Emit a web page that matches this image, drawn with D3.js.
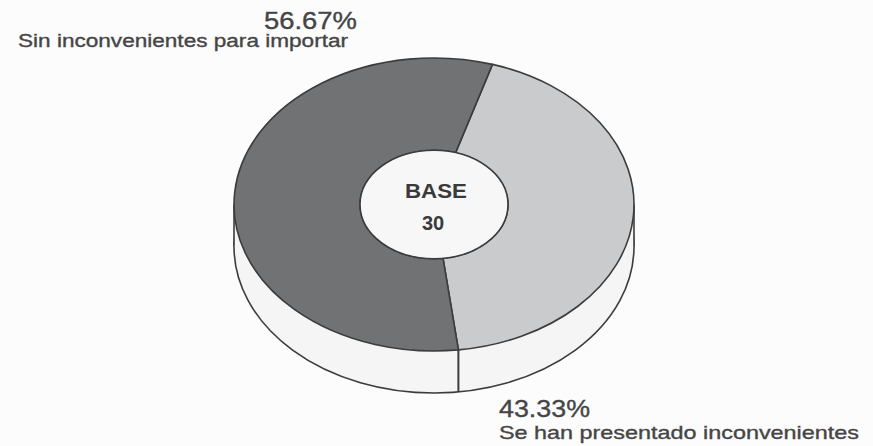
<!DOCTYPE html>
<html>
<head>
<meta charset="utf-8">
<script src="https://cdn.jsdelivr.net/npm/d3@7"></script>
<style>
  html, body { margin: 0; padding: 0; background: #fcfcfc; }
  svg { display: block; }
  text { font-family: "Liberation Sans", Arial, sans-serif; fill: #454545; }
</style>
</head>
<body>
<svg id="chart" width="873" height="446"></svg>
<script>
// ---- data ----
const categories = ["Se han presentado inconvenientes", "Sin inconvenientes para importar"];
const values = [43.33, 56.67];
const percentLabels = ["43.33%", "56.67%"];
const baseLabel = ["BASE", "30"];
const sliceColors = ["#c9cbcd", "#707274"];

(function () {
// ---- layout ----
const W = 873, H = 446;
const cx = 434, cy = 204.5;     // centre of top face
const rx = 200, ry = 146.5;     // outer radii of top face
const depth = 42;               // thickness of the disc
const R = 100;                  // unit radius used by d3.arc before elliptical scaling
const innerFrac = 0.37;
const startA = 17 * Math.PI / 180;

const svg = d3.select("#chart");
svg.append("rect").attr("width", W).attr("height", H).attr("fill", "#fcfcfc");

const pie = d3.pie().sort(null).value(d => d)
  .startAngle(startA).endAngle(startA + 2 * Math.PI);
const arcs = pie(values);

const arcGen = d3.arc().innerRadius(R * innerFrac).outerRadius(R);
const fullDisc = d3.arc().innerRadius(0).outerRadius(R).startAngle(0).endAngle(2 * Math.PI);

const sx = rx / R, sy = ry / R;
const ex = a => cx + rx * Math.sin(a);
const ey = a => cy - ry * Math.cos(a);

const stroke = "#3c3c3c";

// ---- side wall ----
const side = svg.append("g");
side.append("path")
  .attr("d", fullDisc())
  .attr("transform", `translate(${cx},${cy + depth}) scale(${sx},${sy})`)
  .attr("fill", "#f5f5f5")
  .attr("stroke", stroke).attr("stroke-width", 1.6)
  .attr("vector-effect", "non-scaling-stroke");
side.append("rect")
  .attr("x", cx - rx).attr("y", cy).attr("width", 2 * rx).attr("height", depth)
  .attr("fill", "#f5f5f5");
[-1, 1].forEach(s => {
  side.append("line")
    .attr("x1", cx + s * rx).attr("x2", cx + s * rx)
    .attr("y1", cy).attr("y2", cy + depth)
    .attr("stroke", stroke).attr("stroke-width", 1.6);
});
// slice boundaries visible on the front wall
arcs.forEach(d => {
  [d.startAngle, d.endAngle].forEach(a => {
    const yy = ey(a);
    if (yy > cy) {
      side.append("line")
        .attr("x1", ex(a)).attr("x2", ex(a))
        .attr("y1", yy).attr("y2", yy + depth)
        .attr("stroke", stroke).attr("stroke-width", 1.6);
    }
  });
});

// ---- top face ----
const face = svg.append("g")
  .attr("transform", `translate(${cx},${cy}) scale(${sx},${sy})`);
face.selectAll("path.slice")
  .data(arcs)
  .join("path")
  .attr("class", "slice")
  .attr("d", arcGen)
  .attr("fill", (d, i) => sliceColors[i])
  .attr("stroke", stroke).attr("stroke-width", 1.6)
  .attr("stroke-linejoin", "round")
  .attr("vector-effect", "non-scaling-stroke");
// hole
face.append("circle")
  .attr("r", R * innerFrac)
  .attr("fill", "#f7f7f7")
  .attr("stroke", stroke).attr("stroke-width", 1.6)
  .attr("vector-effect", "non-scaling-stroke");

// ---- centre text ----
svg.append("text").attr("x", cx + 2).attr("y", 198)
  .attr("text-anchor", "middle").attr("font-weight", "bold").attr("font-size", 20)
  .attr("textLength", 62).attr("lengthAdjust", "spacingAndGlyphs")
  .style("fill", "#3a3a3a")
  .text(baseLabel[0]);
svg.append("text").attr("x", cx - 1).attr("y", 230)
  .attr("text-anchor", "middle").attr("font-weight", "bold").attr("font-size", 20)
  .style("fill", "#3a3a3a")
  .text(baseLabel[1]);

// ---- outside labels ----
const lab = svg.append("g").attr("stroke", "#454545").attr("stroke-width", 0.35);
// dark slice (index 1)
lab.append("text").attr("x", 264).attr("y", 29).attr("font-size", 23)
  .attr("textLength", 93).attr("lengthAdjust", "spacingAndGlyphs")
  .text(percentLabels[1]);
lab.append("text").attr("x", 18).attr("y", 47).attr("font-size", 18)
  .attr("textLength", 330).attr("lengthAdjust", "spacingAndGlyphs")
  .text(categories[1]);
// light slice (index 0)
lab.append("text").attr("x", 499).attr("y", 417).attr("font-size", 23)
  .attr("textLength", 91).attr("lengthAdjust", "spacingAndGlyphs")
  .text(percentLabels[0]);
lab.append("text").attr("x", 499).attr("y", 439).attr("font-size", 19)
  .attr("textLength", 360).attr("lengthAdjust", "spacingAndGlyphs")
  .text(categories[0]);
})();
</script>
</body>
</html>
